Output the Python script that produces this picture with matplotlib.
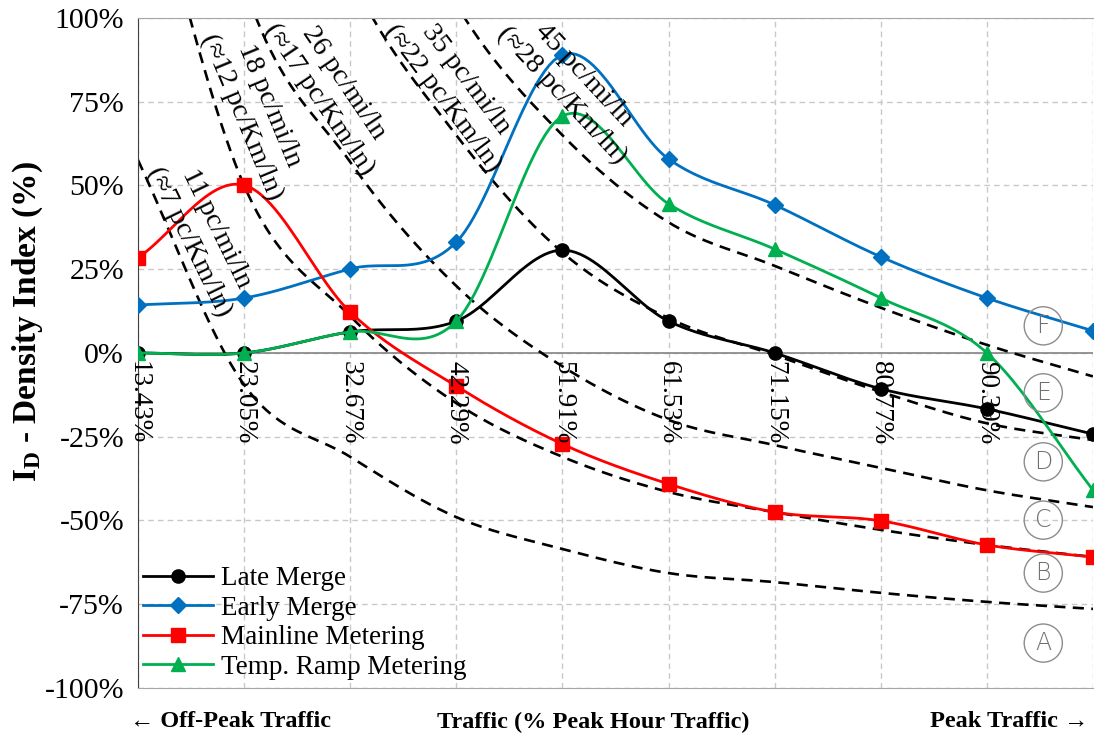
import numpy as np
import matplotlib.pyplot as plt

plt.rcParams['font.family'] = ['Liberation Serif', 'DejaVu Serif']
plt.rcParams['mathtext.fontset'] = 'custom'
plt.rcParams['mathtext.rm'] = 'Liberation Serif'
plt.rcParams['mathtext.bf'] = 'Liberation Serif:bold'

# traffic level (% of peak hour traffic)
traffic = [13.43, 23.05, 32.67, 42.29, 51.91, 61.53, 71.15, 80.77, 90.39, 100.00]

# density index I_D (%) per strategy
late_merge = [0, 0, 6.3, 9.5, 30.7, 9.5, 0, -10.7, -16.7, -24.2]
early_merge = [14.3, 16.4, 25.1, 33.1, 89.0, 57.9, 44.2, 28.7, 16.4, 6.6]
mainline_metering = [28.4, 50.1, 12.2, -9.9, -27.2, -39.1, -47.5, -50.1, -57.3, -60.9]
ramp_metering = [0, 0, 6.3, 9.5, 70.7, 44.5, 31.0, 16.4, 0, -40.9]

# constant-density boundaries between LOS zones (above 100% they leave the plot)
dens_11 = [57.6, -9.5, -31, -49, -58.5, -65.7, -68.4, -71.6, -74.3, -76.4]
dens_18 = [156, 50, 11, -15, -31, -41.5, -47.5, -52.8, -57.3, -60.9]
dens_26 = [250, 110, 57, 20, -4, -20, -27.5, -34.3, -41, -46]
dens_35 = [320, 200, 113, 65, 30, 10.4, -0.6, -11.6, -21, -26]
dens_45 = [400, 260, 170, 104, 65, 39, 26, 13.5, 2.4, -7]
dens_text = ['11 pc/mi/ln\n(≈7 pc/Km/ln)', '18 pc/mi/ln\n(≈12 pc/Km/ln)',
             '26 pc/mi/ln\n(≈17 pc/Km/ln)', '35 pc/mi/ln\n(≈22 pc/Km/ln)',
             '45 pc/mi/ln\n(≈28 pc/Km/ln)']

zones = ['A', 'B', 'C', 'D', 'E', 'F']

N = 24  # points per segment of the smoothed lines


def smooth(x, y, n=N):
    # Catmull-Rom spline through the points (like a "smoothed line" chart)
    y = np.asarray(y, float)
    m = np.empty_like(y)
    m[1:-1] = (y[2:] - y[:-2]) / 2
    m[0] = y[1] - y[0]
    m[-1] = y[-1] - y[-2]
    s = np.linspace(0, 1, n, endpoint=False)
    h00 = 2 * s**3 - 3 * s**2 + 1
    h10 = s**3 - 2 * s**2 + s
    h01 = -2 * s**3 + 3 * s**2
    h11 = s**3 - s**2
    xs, ys = [], []
    for i in range(len(y) - 1):
        xs.append(np.linspace(x[i], x[i + 1], n, endpoint=False))
        ys.append(h00 * y[i] + h10 * m[i] + h01 * y[i + 1] + h11 * m[i + 1])
    xs.append([x[-1]])
    ys.append([y[-1]])
    return np.concatenate(xs), np.concatenate(ys)


fig = plt.figure(figsize=(10.95, 7.42), dpi=100)
ax = fig.add_axes([0.126, 0.0728, 0.8721, 0.903])

# density boundaries
for d in [dens_11, dens_18, dens_26, dens_35, dens_45]:
    xs, ys = smooth(traffic, d)
    ax.plot(xs, ys, color='black', lw=1.9, ls=(0, (4.2, 2.8)), zorder=2)

series = [
    (late_merge, 'Late Merge', 'black', 'o', 9.5),
    (early_merge, 'Early Merge', '#0070C0', 'D', 8),
    (mainline_metering, 'Mainline Metering', '#FF0000', 's', 10.5),
    (ramp_metering, 'Temp. Ramp Metering', '#00B050', '^', 10),
]
for vals, name, col, mk, ms in series:
    xs, ys = smooth(traffic, vals)
    ax.plot(xs, ys, color=col, lw=2, marker=mk, ms=ms, markevery=N,
            label=name, zorder=3)

# density labels along each boundary
label_pos = [(19.3, 35.2, -64), (24.1, 72.2, -67.5), (31.0, 78.2, -56),
             (42.1, 78.8, -53), (52.8, 80.0, -47)]
for txt, (tx, ty, rot) in zip(dens_text, label_pos):
    ax.text(tx, ty, txt, rotation=rot, rotation_mode='anchor', ha='center',
            va='center', fontsize=20.5, linespacing=1.25, zorder=4)

# LOS zone markers
zone_y = [-86.6, -65.7, -49.9, -32.5, -11.9, 8.1]
for z, zy in zip(zones, zone_y):
    ax.text(95.5, zy, z, ha='center', va='center', fontsize=17, color='#6f6f6f',
            family='DejaVu Sans', fontweight='light',
            bbox=dict(boxstyle='circle,pad=0.3', fc='none', ec='#8c8c8c', lw=1))

ax.set_xlim(traffic[0], traffic[-1])
ax.set_ylim(-100, 100)
ax.set_xticks(traffic)
ax.set_xticklabels([])
ax.set_yticks(range(-100, 101, 25))
ax.set_yticklabels(['%d%%' % v for v in range(-100, 101, 25)], fontsize=21.5)
ax.tick_params(length=0, pad=10)
ax.grid(True, color='#C8C8C8', lw=1, ls=(0, (4, 3)))
ax.set_axisbelow(True)
ax.axhline(0, color='#8c8c8c', lw=1.3, zorder=1.5)
for side in ['top', 'bottom']:
    ax.spines[side].set_color('#A6A6A6')
ax.spines['left'].set_color('#404040')
ax.spines['right'].set_visible(False)

# category labels sit just under the zero line
for t in traffic[:-1]:
    ax.annotate('%.2f%%' % t, (t, 0), xytext=(0, -8), textcoords='offset pixels',
                rotation=-90, ha='center', va='top', fontsize=19.5, zorder=4)

ax.legend(loc='lower left', bbox_to_anchor=(0.005, 0.012), frameon=False,
          fontsize=19.5, handlelength=2.6, handletextpad=0.3, labelspacing=0.17,
          borderpad=0, borderaxespad=0)

fig.text(0.0256, 0.567, r'$\mathbf{I_D}$' + ' - Density Index (%)', rotation=90,
         ha='center', va='center', fontsize=24, fontweight='bold')
fig.text(0.1187, 0.027, '← Off-Peak Traffic', ha='left', va='center',
         fontsize=17.5, fontweight='bold')
fig.text(0.5416, 0.027, 'Traffic (% Peak Hour Traffic)', ha='center', va='center',
         fontsize=17.5, fontweight='bold')
fig.text(0.9936, 0.027, 'Peak Traffic →', ha='right', va='center',
         fontsize=17.5, fontweight='bold')

fig.savefig('out.png', dpi=100)
